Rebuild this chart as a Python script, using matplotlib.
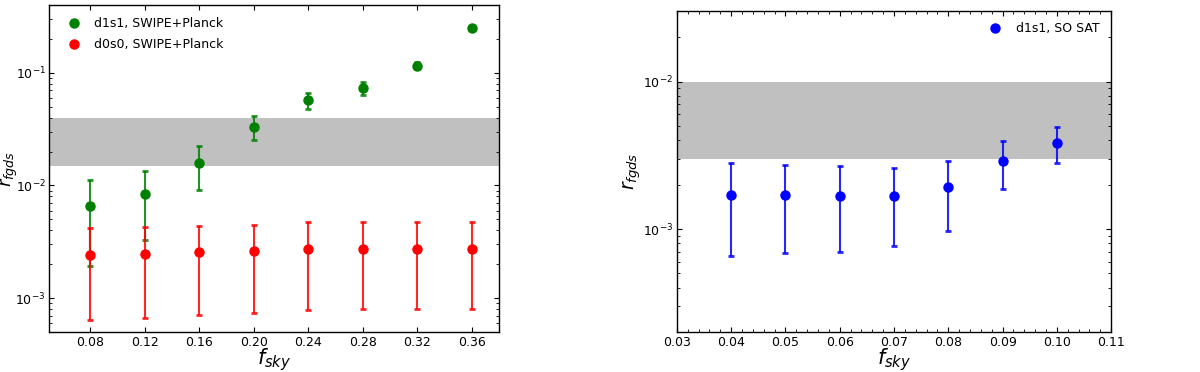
import matplotlib
matplotlib.use("Agg")
import matplotlib.pyplot as plt
from matplotlib.ticker import AutoMinorLocator
import numpy as np

# Left panel data
fsky_left = [0.08, 0.12, 0.16, 0.20, 0.24, 0.28, 0.32, 0.36]
d1s1_swipe = [0.00652, 0.00832, 0.01585, 0.0333, 0.0569, 0.0726, 0.1143, 0.250]
d1s1_swipe_hi = [0.0111, 0.01346, 0.0226, 0.0410, 0.0666, 0.0832, 0.124, 0.255]
d1s1_swipe_lo = [0.00195, 0.00326, 0.00914, 0.0255, 0.0476, 0.0630, 0.107, 0.245]
d0s0_swipe = [0.00242, 0.00248, 0.00255, 0.00261, 0.00273, 0.00275, 0.00273, 0.00275]
d0s0_swipe_hi = [0.00422, 0.00427, 0.00438, 0.00448, 0.00471, 0.00473, 0.00471, 0.00473]
d0s0_swipe_lo = [0.000647, 0.000674, 0.000708, 0.000737, 0.000787, 0.000803, 0.000800, 0.000803]
band_left = [0.015, 0.040]

# Right panel data
fsky_right = [0.04, 0.05, 0.06, 0.07, 0.08, 0.09, 0.10]
d1s1_so = [0.001714, 0.001706, 0.00167, 0.00167, 0.00192, 0.00291, 0.00385]
d1s1_so_hi = [0.00279, 0.00273, 0.00268, 0.00259, 0.00289, 0.00397, 0.00491]
d1s1_so_lo = [0.000653, 0.000689, 0.000700, 0.000764, 0.000974, 0.00186, 0.00279]
band_right = [0.003, 0.010]
xticks_right = [0.03, 0.04, 0.05, 0.06, 0.07, 0.08, 0.09, 0.10, 0.11]

fig = plt.figure(figsize=(12, 3.72), dpi=100)
ax1 = fig.add_axes([0.041, 0.107, 0.375, 0.880])
ax2 = fig.add_axes([0.564, 0.107, 0.362, 0.863])


def err(v, hi, lo):
    v = np.array(v); hi = np.array(hi); lo = np.array(lo)
    return [v - lo, hi - v]


def style(ax):
    ax.set_yscale('log')
    ax.tick_params(which='both', direction='in', top=True, right=True, labelsize=9)
    ax.tick_params(which='major', length=3.5, pad=2.5)
    ax.tick_params(which='minor', length=2)
    for s in ax.spines.values():
        s.set_linewidth(1.0)


ekw = dict(fmt='o', markersize=6.5, capsize=2.5, capthick=2, elinewidth=1.5)

ax1.axhspan(band_left[0], band_left[1], color='silver', zorder=0, lw=0)
e1 = ax1.errorbar(fsky_left, d1s1_swipe, yerr=err(d1s1_swipe, d1s1_swipe_hi, d1s1_swipe_lo),
                  color='green', ecolor=(0.0, 0.5, 0.0, 0.85), label='d1s1, SWIPE+Planck', **ekw)
e2 = ax1.errorbar(fsky_left, d0s0_swipe, yerr=err(d0s0_swipe, d0s0_swipe_hi, d0s0_swipe_lo),
                  color='red', ecolor=(1.0, 0.0, 0.0, 0.85), label='d0s0, SWIPE+Planck', **ekw)
style(ax1)
ax1.set_xlim(0.05, 0.38)
ax1.set_ylim(5e-4, 0.4)
ax1.set_xticks(fsky_left)
ax1.set_xticklabels([f"{v:.2f}" for v in fsky_left])
ax1.set_xlabel(r'$f_{sky}$', fontsize=15, labelpad=-1.5)
ax1.set_ylabel(r'$r_{fgds}$', fontsize=13)
ax1.yaxis.set_label_coords(-0.066, 0.5)
ax1.legend([e1[0], e2[0]], ['d1s1, SWIPE+Planck', 'd0s0, SWIPE+Planck'],
           loc='upper left', frameon=False, fontsize=9, numpoints=1,
           handletextpad=0.6, borderaxespad=0.6, labelspacing=0.65)

ax2.axhspan(band_right[0], band_right[1], color='silver', zorder=0, lw=0)
e3 = ax2.errorbar(fsky_right, d1s1_so, yerr=err(d1s1_so, d1s1_so_hi, d1s1_so_lo),
                  color='blue', ecolor=(0.0, 0.0, 1.0, 0.85), label='d1s1, SO SAT', **ekw)
style(ax2)
ax2.set_xlim(0.03, 0.11)
ax2.set_ylim(2e-4, 3e-2)
ax2.set_xticks(xticks_right)
ax2.set_xticklabels([f"{v:.2f}" for v in xticks_right])
ax2.xaxis.set_minor_locator(AutoMinorLocator(5))
ax2.set_xlabel(r'$f_{sky}$', fontsize=15, labelpad=-1.5)
ax2.set_ylabel(r'$r_{fgds}$', fontsize=13.5)
ax2.yaxis.set_label_coords(-0.078, 0.5)
ax2.legend([e3[0]], ['d1s1, SO SAT'], loc='upper right', frameon=False, fontsize=9,
           numpoints=1, handletextpad=0.7, borderaxespad=0.5)

fig.savefig('out.png', dpi=100)
